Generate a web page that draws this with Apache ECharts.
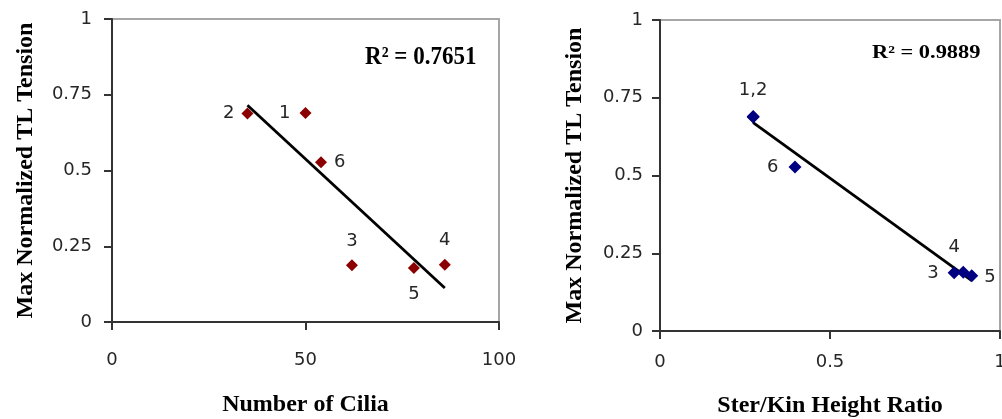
<!DOCTYPE html>
<html>
<head>
<meta charset="utf-8">
<title>Max Normalized TL Tension</title>
<script src="https://cdn.jsdelivr.net/npm/echarts@6/dist/echarts.min.js"></script>
<style>
  html, body { margin: 0; padding: 0; background: #ffffff; }
  #chart { width: 1002px; height: 419px; }
</style>
</head>
<body>
<div id="chart"></div>
<script>
// Bundle data: one entry per bundle (1..6)
const bundleIds = ['1', '2', '3', '4', '5', '6'];
const maxTension = [0.69, 0.688, 0.187, 0.189, 0.178, 0.527];
const ciliaCount = [50, 35, 62, 86, 78, 54];
const sterKinRatio = [0.274, 0.274, 0.865, 0.892, 0.917, 0.397];
const ciliaPointLabels = ['1', '2', '3', '4', '5', '6'];
const ratioPointLabels = ['1,2', '', '3', '4', '5', '6'];

// Axis ticks
const tensionTicks = [0, 0.25, 0.5, 0.75, 1];
const ciliaTicks = [0, 50, 100];
const ratioTicks = [0, 0.5, 1];

// Fit statistics shown on each panel
const rSquaredCilia = 0.7651;
const rSquaredRatio = 0.9889;

// Least-squares line across the range of the x values
function trendLine(xs, ys) {
  const n = xs.length;
  const mx = xs.reduce((a, b) => a + b, 0) / n;
  const my = ys.reduce((a, b) => a + b, 0) / n;
  let sxy = 0, sxx = 0;
  for (let i = 0; i < n; i++) {
    sxy += (xs[i] - mx) * (ys[i] - my);
    sxx += (xs[i] - mx) * (xs[i] - mx);
  }
  const slope = sxy / sxx;
  const icpt = my - slope * mx;
  const lo = Math.min(...xs), hi = Math.max(...xs);
  return [[lo, icpt + slope * lo], [hi, icpt + slope * hi]];
}

// Label placement for each bundle's marker, per panel
const ciliaLabelPlace = {
  '1': { position: 'left', distance: 9 },
  '2': { position: 'left', distance: 7 },
  '3': { position: 'top', distance: 9 },
  '4': { position: 'top', distance: 9 },
  '5': { position: 'bottom', distance: 11 },
  '6': { position: 'right', distance: 7 }
};
const ratioLabelPlace = {
  '1,2': { position: 'top', distance: 11 },
  '3': { position: 'left', distance: 9 },
  '4': { position: 'top', distance: 9, offset: [-9, 0] },
  '5': { position: 'right', distance: 6, offset: [0, 2] },
  '6': { position: 'left', distance: 10 }
};

const tickFont = 'DejaVu Sans';
const titleFont = 'Liberation Serif';
const labelColor = '#262626';
const tickSize = 18;

function points(xs, labels, place) {
  return bundleIds.map((id, i) => {
    const txt = labels[i];
    const p = place[txt] || {};
    return {
      name: id,
      value: [xs[i], maxTension[i]],
      label: {
        show: txt !== '',
        formatter: txt,
        position: p.position || 'top',
        distance: p.distance || 5,
        offset: p.offset || [0, 0]
      }
    };
  });
}

function xAxis(gridIndex, ticks, name, nameGap, labelMargin) {
  return {
    type: 'value', gridIndex,
    min: ticks[0], max: ticks[ticks.length - 1],
    interval: ticks[1] - ticks[0],
    name, nameLocation: 'middle', nameGap,
    nameTextStyle: { fontFamily: titleFont, fontWeight: 'bold', fontSize: 24, color: '#000' },
    axisLine: { show: true, onZero: false, lineStyle: { color: '#333', width: 2 } },
    axisTick: { show: true, inside: false, length: 8, lineStyle: { color: '#333', width: 2 } },
    axisLabel: { fontFamily: tickFont, fontSize: tickSize, color: labelColor, margin: labelMargin },
    splitLine: { show: false }
  };
}

function yAxis(gridIndex, name, nameGap, labelMargin) {
  return {
    type: 'value', gridIndex,
    min: tensionTicks[0], max: tensionTicks[tensionTicks.length - 1],
    interval: tensionTicks[1] - tensionTicks[0],
    name, nameLocation: 'middle', nameGap,
    nameTextStyle: { fontFamily: titleFont, fontWeight: 'bold', fontSize: 24, color: '#000' },
    axisLine: { show: true, onZero: false, lineStyle: { color: '#333', width: 2 } },
    axisTick: { show: true, inside: false, length: 8, lineStyle: { color: '#333', width: 2 } },
    axisLabel: { fontFamily: tickFont, fontSize: tickSize, color: labelColor, margin: labelMargin },
    splitLine: { show: false }
  };
}

function scatter(idx, data, color, size) {
  return {
    type: 'scatter', xAxisIndex: idx, yAxisIndex: idx,
    symbol: 'diamond', symbolSize: size,
    itemStyle: { color, opacity: 1 },
    label: { fontFamily: tickFont, fontSize: tickSize, color: labelColor },
    data, z: 3, silent: true
  };
}

function fitLine(idx, data) {
  return {
    type: 'line', xAxisIndex: idx, yAxisIndex: idx,
    data, symbol: 'none', silent: true, z: 2,
    lineStyle: { color: '#000', width: 2.8 }
  };
}

const chart = echarts.init(document.getElementById('chart'), null, { renderer: 'canvas' });

chart.setOption({
  animation: false,
  backgroundColor: '#ffffff',
  grid: [
    { left: 112, top: 19, width: 387, height: 303, outerBoundsMode: 'none', containLabel: false,
      show: true, borderColor: '#a6a6a6', borderWidth: 2, backgroundColor: 'transparent' },
    { left: 660, top: 20, width: 340, height: 311, outerBoundsMode: 'none', containLabel: false,
      show: true, borderColor: '#a6a6a6', borderWidth: 2, backgroundColor: 'transparent' }
  ],
  xAxis: [
    xAxis(0, ciliaTicks, 'Number of Cilia', 71, 29),
    xAxis(1, ratioTicks, 'Ster/Kin Height Ratio', 63, 22)
  ],
  yAxis: [
    yAxis(0, 'Max Normalized TL Tension', 74, 20),
    yAxis(1, 'Max Normalized TL Tension', 73, 17)
  ],
  series: [
    fitLine(0, trendLine(ciliaCount, maxTension)),
    scatter(0, points(ciliaCount, ciliaPointLabels, ciliaLabelPlace), '#8b0000', 12),
    fitLine(1, trendLine(sterKinRatio, maxTension)),
    scatter(1, points(sterKinRatio, ratioPointLabels, ratioLabelPlace), '#000080', 13)
  ],
  graphic: [
    {
      type: 'text', x: 365, y: 57, silent: true,
      scaleX: 0.96, scaleY: 1.05,
      style: {
        text: 'R² = ' + rSquaredCilia.toFixed(4),
        fontFamily: titleFont, fontWeight: 'bold', fontSize: 24, fill: '#000',
        align: 'left', verticalAlign: 'middle'
      }
    },
    {
      type: 'text', x: 872, y: 53, silent: true,
      scaleX: 1.12, scaleY: 0.92,
      style: {
        text: 'R² = ' + rSquaredRatio.toFixed(4),
        fontFamily: titleFont, fontWeight: 'bold', fontSize: 20, fill: '#000',
        align: 'left', verticalAlign: 'middle'
      }
    }
  ]
});
</script>
</body>
</html>
